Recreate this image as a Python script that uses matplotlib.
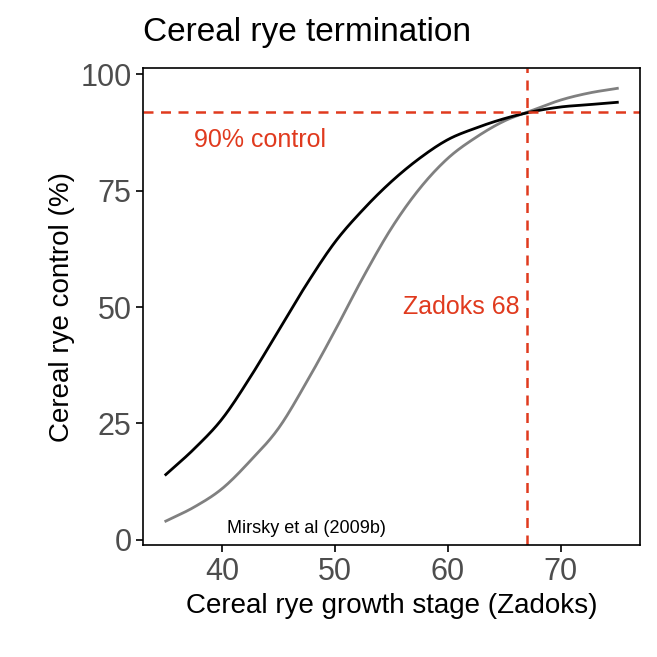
import numpy as np
import matplotlib.pyplot as plt

plt.rcParams['font.family'] = ['Liberation Sans', 'DejaVu Sans']

# values
stage = [35, 37.5, 40, 42.5, 45, 47.5, 50, 52.5, 55, 57.5, 60, 62.5, 65, 67.5, 70, 72.5, 75]
black = [14, 19.5, 26, 35, 45, 55, 64, 71, 77, 82, 86, 88.5, 90.5, 92, 93, 93.5, 94]
gray = [4, 7, 11, 17, 24, 34, 45, 56.5, 67, 75.5, 82, 86.5, 90, 92.3, 94.5, 96, 97]
target_control = 92
target_stage = 67

red = '#e03a1e'


def smooth(x, y, n=20):
    # cubic Hermite through the read points, only for a smooth drawn line
    x = np.asarray(x, float)
    y = np.asarray(y, float)
    m = np.gradient(y, x)
    xs, ys = [], []
    for i in range(len(x) - 1):
        h = x[i + 1] - x[i]
        t = np.linspace(0, 1, n, endpoint=False)
        h00 = 2 * t**3 - 3 * t**2 + 1
        h10 = t**3 - 2 * t**2 + t
        h01 = -2 * t**3 + 3 * t**2
        h11 = t**3 - t**2
        xs.append(x[i] + t * h)
        ys.append(h00 * y[i] + h10 * h * m[i] + h01 * y[i + 1] + h11 * h * m[i + 1])
    xs.append([x[-1]])
    ys.append([y[-1]])
    return np.concatenate(xs), np.concatenate(ys)


fig = plt.figure(figsize=(6.57, 6.57), dpi=100)
ax = fig.add_axes([0.218, 0.170, 0.756, 0.726])

ax.plot(*smooth(stage, gray), color='#808080', linewidth=2)
ax.plot(*smooth(stage, black), color='black', linewidth=2)
ax.axhline(target_control, color=red, linestyle=(0, (4, 3)), linewidth=1.8)
ax.axvline(target_stage, color=red, linestyle=(0, (4, 3)), linewidth=1.8)

ax.text(37.5, 86, '90% control', color=red, fontsize=18, va='center')
ax.text(66.3, 50, 'Zadoks 68', color=red, fontsize=18, va='center', ha='right')
ax.text(47.5, 2.5, 'Mirsky et al (2009b)', color='black', fontsize=13, ha='center', va='center')

ax.set_xlim(33, 77)
ax.set_ylim(-1.2, 101.3)
ax.set_xticks([40, 50, 60, 70])
ax.set_yticks([0, 25, 50, 75, 100])
ax.tick_params(labelsize=22, labelcolor='#4d4d4d', length=5, width=1.2)
ax.set_xlabel('Cereal rye growth stage (Zadoks)', fontsize=20)
ax.set_ylabel('Cereal rye control (%)', fontsize=20)
for s in ax.spines.values():
    s.set_linewidth(1.2)
fig.text(0.218, 0.95, 'Cereal rye termination', fontsize=24, va='center')

fig.savefig('out.png', dpi=100)
